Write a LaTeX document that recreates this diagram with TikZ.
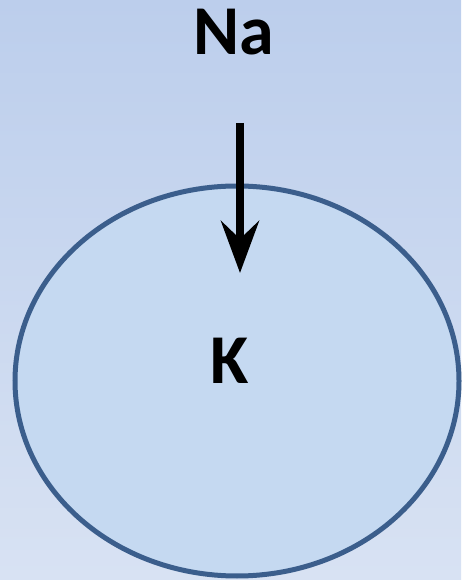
\documentclass[tikz,border=0pt]{standalone}
\usepackage{fontspec}
\setmainfont{Carlito}
\usetikzlibrary{arrows.meta}
\definecolor{bgtop}{HTML}{BCCEEC}
\definecolor{bgbot}{HTML}{D8E2F3}
\definecolor{ellfill}{HTML}{C5D9F1}
\definecolor{ellline}{HTML}{3B5E8C}
\tikzset{
  lbl/.style={font=\fontsize{70}{70}\selectfont\bfseries, inner sep=0pt, anchor=base},
  cell/.style={draw=ellline, line width=5pt, fill=ellfill},
  flow/.style={line width=8pt, -{Stealth[length=52pt, width=38pt, inset=18pt]}}
}
\begin{document}
\begin{tikzpicture}[x=1pt,y=1pt]
  \shade[top color=bgtop, bottom color=bgbot] (0,0) rectangle (461,580);
  \useasboundingbox (0,0) rectangle (461,580);
  \draw[cell] (237,199) ellipse [x radius=222, y radius=195];
  \node[lbl] (na) at (234,525) {Na};
  \node[lbl] (k) at (230,196) {K};
  \coordinate (s) at (240,457);
  \coordinate (e) at (240,307);
  \draw[flow] (s) -- (e);
\end{tikzpicture}
\end{document}
